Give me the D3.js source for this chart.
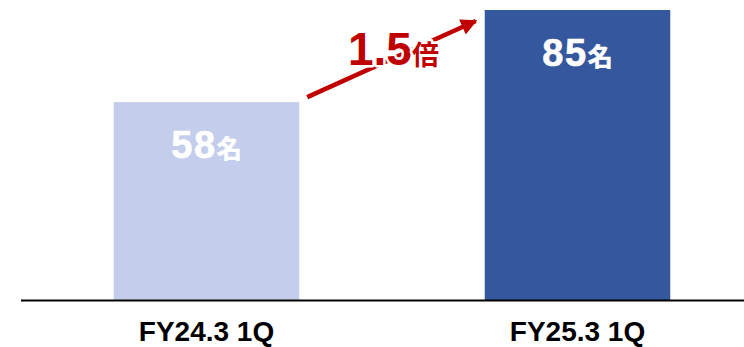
<!DOCTYPE html>
<html>
<head>
<meta charset="utf-8">
<script src="https://cdn.jsdelivr.net/npm/d3@7/dist/d3.min.js"></script>
<style>
  html, body { margin: 0; padding: 0; background: #fff; }
  svg { display: block; }
  text { font-family: "Liberation Sans", Arial, "Noto Sans CJK JP", sans-serif; font-weight: bold; }
</style>
</head>
<body>
<svg id="chart" width="744" height="347"></svg>
<script>
// Headcount per period
const categories = ["FY24.3 1Q", "FY25.3 1Q"];
const values = [58, 85];
const unit = "名";
const barColors = ["#c5cdec", "#35579d"];
const growthLabel = "1.5";
const growthUnit = "倍";

const W = 744, H = 347;
const svg = d3.select("#chart");

const x = d3.scaleBand()
  .domain(categories)
  .range([21, 763])
  .paddingInner(0.5)
  .paddingOuter(0.25);

const y = d3.scaleLinear()
  .domain([0, d3.max(values)])
  .range([300, 10]);

// Bars
svg.selectAll("rect.bar")
  .data(values)
  .join("rect")
  .attr("class", "bar")
  .attr("x", (d, i) => x(categories[i]))
  .attr("y", d => y(d))
  .attr("width", x.bandwidth())
  .attr("height", d => y(0) - y(d))
  .attr("fill", (d, i) => barColors[i]);

// Value labels inside bars
const lbl = svg.selectAll("text.val")
  .data(values)
  .join("text")
  .attr("class", "val")
  .attr("x", (d, i) => x(categories[i]) + x.bandwidth() / 2)
  .attr("y", d => y(d) + 56)
  .attr("text-anchor", "middle")
  .attr("fill", "#fff")
  .attr("stroke", "#fff")
  .attr("stroke-width", 0.6);
lbl.append("tspan").style("font-size", "38px").attr("letter-spacing", "1.5").text(d => d);
lbl.append("tspan").style("font-size", "25px").text(unit);

// Baseline
svg.append("line")
  .attr("x1", 21).attr("x2", W)
  .attr("y1", y(0) + 0.5).attr("y2", y(0) + 0.5)
  .attr("stroke", "#000").attr("stroke-width", 2);

// Category axis labels
const xAxis = svg.append("g")
  .attr("transform", `translate(0,${y(0)})`)
  .call(d3.axisBottom(x).tickSize(0).tickPadding(0));
xAxis.select(".domain").remove();
xAxis.selectAll("text")
  .attr("y", 41)
  .attr("dy", 0)
  .attr("fill", "#000")
  .style("font-size", "28px")
  .style("font-family", "'Liberation Sans', Arial, sans-serif")
  .style("font-weight", "bold");

// Growth arrow between the two bars
const red = "#c00000";
svg.append("defs").append("marker")
  .attr("id", "head")
  .attr("viewBox", "0 0 10 10")
  .attr("refX", 9).attr("refY", 5)
  .attr("markerWidth", 4.5).attr("markerHeight", 3.6)
  .attr("markerUnits", "strokeWidth")
  .attr("orient", "auto")
  .append("path")
  .attr("d", "M0,0 L10,5 L0,10 Z")
  .attr("fill", red);

const x0 = x(categories[0]) + x.bandwidth() + 8;
const x1 = x(categories[1]) - 9;
svg.append("line")
  .attr("x1", x0).attr("y1", y(values[0]) - 5)
  .attr("x2", x1).attr("y2", y(values[1]) + 11)
  .attr("stroke", red)
  .attr("stroke-width", 4.5)
  .attr("marker-end", "url(#head)");

const g = svg.append("text")
  .attr("x", 348)
  .attr("y", 65)
  .attr("fill", red)
  .attr("stroke", "#fff")
  .attr("stroke-width", 5)
  .attr("paint-order", "stroke")
  .attr("stroke-linejoin", "round");
g.append("tspan").style("font-size", "46px").text(growthLabel);
g.append("tspan").style("font-size", "27px").text(growthUnit);
</script>
</body>
</html>
